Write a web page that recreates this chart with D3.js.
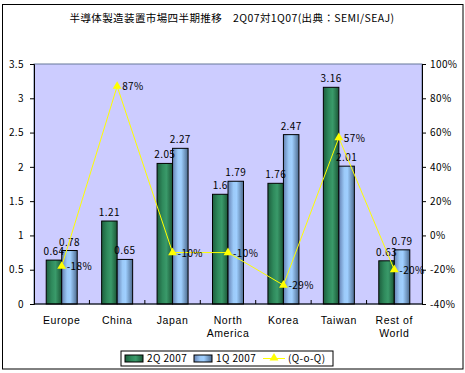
<!DOCTYPE html>
<html>
<head>
<meta charset="utf-8">
<script src="https://cdn.jsdelivr.net/npm/d3@7"></script>
<style>
  body { margin: 0; background: #fff; }
  svg { display: block; }
  text { font-family: "Noto Sans CJK JP", "DejaVu Sans", sans-serif; font-size: 10px; fill: #000; letter-spacing: 0.4px; }
  text.cat { font-family: "Liberation Sans", Arial, sans-serif; font-size: 10.5px; letter-spacing: 0.6px; }
</style>
</head>
<body>
<svg id="chart"></svg>
<script>
// data
var categories = ["Europe", "China", "Japan", "North America", "Korea", "Taiwan", "Rest of World"];
var catLines = [["Europe"], ["China"], ["Japan"], ["North", "America"], ["Korea"], ["Taiwan"], ["Rest of", "World"]];
var q2_2007 = [0.64, 1.21, 2.05, 1.6, 1.76, 3.16, 0.63];
var q1_2007 = [0.78, 0.65, 2.27, 1.79, 2.47, 2.01, 0.79];
var qoq = [-0.18, 0.87, -0.10, -0.10, -0.29, 0.57, -0.20];
var qoqLabels = ["-18%", "87%", "-10%", "-10%", "-29%", "57%", "-20%"];
var seriesNames = ["2Q 2007", "1Q 2007", "(Q-o-Q)"];
var leftTicks = [0, 0.5, 1, 1.5, 2, 2.5, 3, 3.5];
var rightTicks = [-0.4, -0.2, 0, 0.2, 0.4, 0.6, 0.8, 1.0];

var W = 465, H = 373;
var svg = d3.select("#chart").attr("width", W).attr("height", H);

var plot = { left: 34, right: 422, top: 64, bottom: 304 };

// gradients for the bars
var defs = svg.append("defs");
function addGrad(id, stops) {
    var g = defs.append("linearGradient").attr("id", id)
        .attr("x1", "0%").attr("x2", "100%").attr("y1", "0%").attr("y2", "0%");
    stops.forEach(function (s) {
        g.append("stop").attr("offset", s[0]).attr("stop-color", s[1]);
    });
}
addGrad("gGreen", [["0%", "#1d5f3e"], ["35%", "#2f8a5c"], ["60%", "#3a9a6a"], ["100%", "#1b5636"]]);
addGrad("gBlue", [["0%", "#6582b4"], ["35%", "#9ccaf8"], ["55%", "#9fcfff"], ["100%", "#4c6a8e"]]);

// outer frame
svg.append("rect").attr("x", 2.5).attr("y", 4.5).attr("width", 460.5).attr("height", 364.5)
    .attr("fill", "#fff").attr("stroke", "#000").attr("stroke-width", 1);

// title
svg.append("text").attr("x", 232).attr("y", 22).attr("text-anchor", "middle")
    .style("font-size", "10.5px")
    .text("半導体製造装置市場四半期推移　2Q07対1Q07(出典：SEMI/SEAJ)");

// scales
var x0 = d3.scaleBand().domain(categories).range([plot.left, plot.right]).padding(0);
var bw = x0.bandwidth();
var x1 = d3.scaleBand().domain(["q2", "q1"]).range([bw / 2 - 15.5, bw / 2 + 15.5]).padding(0);
var y = d3.scaleLinear().domain([0, 3.5]).range([plot.bottom, plot.top]);
var y2 = d3.scaleLinear().domain([-0.4, 1.0]).range([plot.bottom, plot.top]);

// plot background
svg.append("rect").attr("x", plot.left).attr("y", plot.top)
    .attr("width", plot.right - plot.left).attr("height", plot.bottom - plot.top)
    .attr("fill", "#ccccff").attr("stroke", "#66789a").attr("stroke-width", 1);

// left axis
var yAxis = svg.append("g").attr("transform", "translate(" + plot.left + ",0)")
    .call(d3.axisLeft(y).tickValues(leftTicks).tickSize(4).tickPadding(6)
        .tickFormat(function (d) { return d; }));
yAxis.select(".domain").attr("stroke", "#000");
yAxis.selectAll("text").style("font-family", "'Noto Sans CJK JP', sans-serif").style("font-size", "10px");

// right axis
var y2Axis = svg.append("g").attr("transform", "translate(" + plot.right + ",0)")
    .call(d3.axisRight(y2).tickValues(rightTicks).tickSize(4).tickPadding(4)
        .tickFormat(function (d) { return Math.round(d * 100) + "%"; }));
y2Axis.select(".domain").attr("stroke", "#000");
y2Axis.selectAll("text").style("font-family", "'Noto Sans CJK JP', sans-serif").style("font-size", "10px");

// bars
var groups = svg.append("g").selectAll("g").data(categories).enter().append("g")
    .attr("transform", function (d) { return "translate(" + x0(d) + ",0)"; });

groups.append("rect")
    .attr("x", x1("q2")).attr("width", x1.bandwidth())
    .attr("y", function (d, i) { return y(q2_2007[i]); })
    .attr("height", function (d, i) { return y(0) - y(q2_2007[i]); })
    .attr("fill", "url(#gGreen)").attr("stroke", "#000").attr("stroke-width", 1);

groups.append("rect")
    .attr("x", x1("q1")).attr("width", x1.bandwidth())
    .attr("y", function (d, i) { return y(q1_2007[i]); })
    .attr("height", function (d, i) { return y(0) - y(q1_2007[i]); })
    .attr("fill", "url(#gBlue)").attr("stroke", "#000").attr("stroke-width", 1);

// x axis line and category ticks (pointing up)
svg.append("line").attr("x1", plot.left).attr("x2", plot.right)
    .attr("y1", plot.bottom).attr("y2", plot.bottom).attr("stroke", "#000");
var bounds = categories.map(function (c) { return x0(c); }).slice(1);
svg.append("g").selectAll("line").data(bounds).enter().append("line")
    .attr("x1", function (d) { return d; }).attr("x2", function (d) { return d; })
    .attr("y1", plot.bottom).attr("y2", plot.bottom - 4).attr("stroke", "#000");

// category labels, one text per line
var catG = svg.append("g");
catLines.forEach(function (lines, i) {
    lines.forEach(function (t, j) {
        catG.append("text").attr("class", "cat")
            .attr("x", x0(categories[i]) + bw / 2)
            .attr("y", 324 + j * 13)
            .attr("text-anchor", "middle")
            .text(t);
    });
});

// line series
var lineGen = d3.line()
    .x(function (d, i) { return x0(categories[i]) + bw / 2; })
    .y(function (d) { return y2(d); });
svg.append("path").datum(qoq).attr("d", lineGen)
    .attr("fill", "none").attr("stroke", "#ffff00").attr("stroke-width", 1);
var tri = d3.symbol().type(d3.symbolTriangle).size(34);
svg.append("g").selectAll("path").data(qoq).enter().append("path")
    .attr("d", tri)
    .attr("transform", function (d, i) {
        return "translate(" + (x0(categories[i]) + bw / 2) + "," + y2(d) + ")";
    })
    .attr("fill", "#ffff00");

// bar value labels
groups.append("text")
    .attr("x", x1("q2") + x1.bandwidth() / 2)
    .attr("y", function (d, i) { return y(q2_2007[i]) - 5; })
    .attr("text-anchor", "middle")
    .text(function (d, i) { return q2_2007[i]; });
groups.append("text")
    .attr("x", x1("q1") + x1.bandwidth() / 2)
    .attr("y", function (d, i) { return y(q1_2007[i]) - 5; })
    .attr("text-anchor", "middle")
    .text(function (d, i) { return q1_2007[i]; });

// percent labels
svg.append("g").selectAll("text").data(qoq).enter().append("text")
    .attr("x", function (d, i) { return x0(categories[i]) + bw / 2 + 5; })
    .attr("y", function (d) { return y2(d) + 4; })
    .text(function (d, i) { return qoqLabels[i]; });

// legend
var lg = svg.append("g");
lg.append("rect").attr("x", 121).attr("y", 351).attr("width", 212).attr("height", 15)
    .attr("fill", "#fff").attr("stroke", "#000");
lg.append("rect").attr("x", 125).attr("y", 355).attr("width", 18).attr("height", 7)
    .attr("fill", "url(#gGreen)").attr("stroke", "#000");
lg.append("text").attr("x", 147).attr("y", 362).text(seriesNames[0]);
lg.append("rect").attr("x", 194).attr("y", 355).attr("width", 18).attr("height", 7)
    .attr("fill", "url(#gBlue)").attr("stroke", "#000");
lg.append("text").attr("x", 216).attr("y", 362).text(seriesNames[1]);
lg.append("line").attr("x1", 263).attr("x2", 285).attr("y1", 358.5).attr("y2", 358.5)
    .attr("stroke", "#ffff00");
lg.append("path").attr("d", tri).attr("transform", "translate(274,358)").attr("fill", "#ffff00");
lg.append("text").attr("x", 288).attr("y", 362).text(seriesNames[2]);
</script>
</body>
</html>
